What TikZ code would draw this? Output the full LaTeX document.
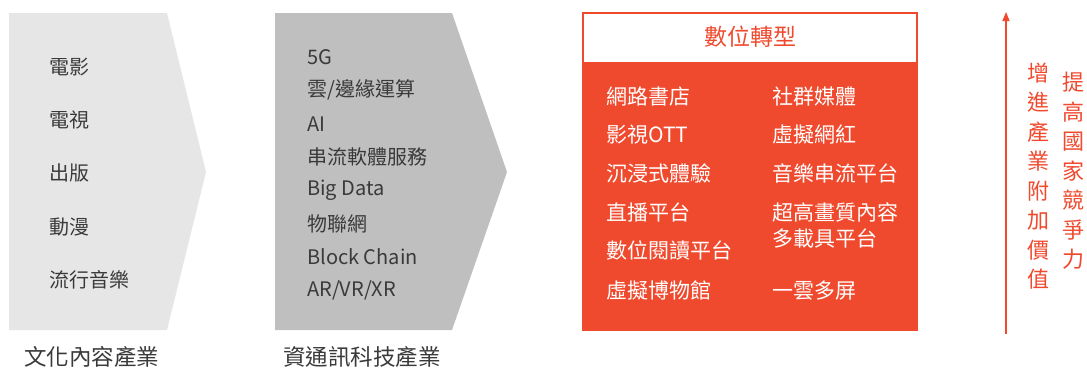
\documentclass[tikz,border=0pt]{standalone}
\usepackage{fontspec}
\setmainfont{Noto Sans CJK TC}
\usetikzlibrary{arrows.meta}
\definecolor{redc}{HTML}{F04A2E}
\definecolor{lgray}{HTML}{E6E6E6}
\definecolor{mgray}{HTML}{BFBFBF}
\definecolor{txt}{HTML}{3A3A3A}
\tikzset{
  item/.style={anchor=west, inner sep=0pt, text=txt, font=\fontsize{20}{22}\selectfont},
  ritem/.style={anchor=west, inner sep=0pt, text=white, font=\fontsize{21}{23}\selectfont},
  caption/.style={anchor=west, inner sep=0pt, text=txt, font=\fontsize{22.5}{24}\selectfont},
  vtext/.style={inner sep=0pt, text=redc, align=center, font=\fontsize{22}{29.5}\selectfont},
}
\begin{document}
\begin{tikzpicture}[x=1pt,y=-1pt]
\useasboundingbox (0,0) rectangle (1087,376);
\fill[white] (0,0) rectangle (1087,376);
% chevrons
\fill[lgray] (9,13) -- (167,13) -- (206,172) -- (167,330) -- (9,330) -- cycle;
\fill[mgray] (275,13) -- (452,13) -- (507,172) -- (452,330) -- (275,330) -- cycle;
% left items
\node[item] (l1) at (49,67) {電影};
\node[item] (l2) at (49,120) {電視};
\node[item] (l3) at (49,173) {出版};
\node[item] (l4) at (49,227) {動漫};
\node[item] (l5) at (49,280) {流行音樂};
% middle items
\node[item] (m1) at (307,57) {5G};
\node[item] (m2) at (307,90) {雲/邊緣運算};
\node[item] (m3) at (307,124) {AI};
\node[item] (m4) at (307,157) {串流軟體服務};
\node[item] (m5) at (307,190) {Big Data};
\node[item] (m6) at (307,224) {物聯網};
\node[item] (m7) at (307,257) {Block Chain};
\node[item] (m8) at (307,290) {AR/VR/XR};
% captions
\node[caption] (c1) at (24,357) {文化內容產業};
\node[caption] (c2) at (283,357) {資通訊科技產業};
% red box
\fill[redc] (582,12) rectangle (918,331);
\fill[white] (584,14) rectangle (916,61.5);
\node[inner sep=0pt, text=redc, font=\fontsize{23}{25}\selectfont] (hd) at (750,37) {數位轉型};
\node[ritem] (r1) at (606,97) {網路書店};
\node[ritem] (r2) at (606,135) {影視OTT};
\node[ritem] (r3) at (606,173) {沉浸式體驗};
\node[ritem] (r4) at (606,212) {直播平台};
\node[ritem] (r5) at (606,250) {數位閱讀平台};
\node[ritem] (r6) at (606,290) {虛擬博物館};
\node[ritem] (s1) at (772,97) {社群媒體};
\node[ritem] (s2) at (772,135) {虛擬網紅};
\node[ritem] (s3) at (772,173) {音樂串流平台};
\node[ritem] (s4) at (772,212) {超高畫質內容};
\node[ritem] (s5) at (772,238) {多載具平台};
\node[ritem] (s6) at (772,291) {一雲多屏};
% arrow
\coordinate (a0) at (1006,334);
\coordinate (a1) at (1006,12);
\draw[redc, line width=1.2pt, -{Triangle[length=9pt,width=7pt]}] (a0) -- (a1);
\node[vtext] (v1) at (1038,176) {增\\進\\產\\業\\附\\加\\價\\值};
\node[vtext] (v2) at (1073,171) {提\\高\\國\\家\\競\\爭\\力};
\end{tikzpicture}
\end{document}
